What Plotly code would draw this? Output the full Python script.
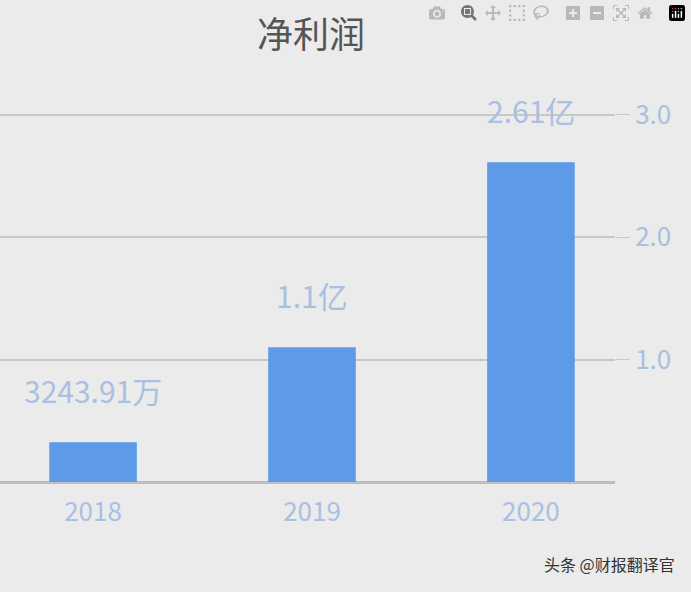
import plotly.graph_objects as go

years = ["2018", "2019", "2020"]
values = [0.324391, 1.1, 2.61]
labels = ["3243.91万", "1.1亿", "2.61亿"]
ytick_vals = [1.0, 2.0, 3.0]
ytick_text = ["1.0", "2.0", "3.0"]

FONT = "Noto Sans CJK SC"
LABEL_COLOR = "#a9c0e2"

xs = list(range(len(years)))
fig = go.Figure(go.Bar(
    x=xs, y=values, width=0.4, marker=dict(color="#5d9be8", line=dict(width=0)),
))
annos = [dict(x=x, y=v, text=t, xref="x", yref="y", showarrow=False, yanchor="bottom",
              yshift=28, font=dict(family=FONT, size=30, color=LABEL_COLOR))
         for x, v, t in zip(xs, values, labels)]
annos.append(dict(text="头条 @财报翻译官", xref="paper", yref="paper", x=1.1, y=-0.21,
                  xanchor="right", yanchor="middle", showarrow=False,
                  font=dict(family=FONT, size=16, color="#333333")))
fig.update_layout(
    width=691, height=592, paper_bgcolor="#ebebeb", plot_bgcolor="#ebebeb",
    margin=dict(l=0, r=76, t=90, b=110), showlegend=False,
    title=dict(text="净利润", x=0.45, xanchor="center", y=0.94, yanchor="middle",
               font=dict(family=FONT, size=36, color="#555555")),
    xaxis=dict(range=[-0.425, 2.384], tickvals=xs, ticktext=years, showgrid=False,
               zeroline=False, showline=False, ticklabelstandoff=12,
               tickfont=dict(family=FONT, size=26, color=LABEL_COLOR)),
    yaxis=dict(range=[0, 3.2], side="right", tickvals=ytick_vals, ticktext=ytick_text,
               gridcolor="#c8c8c8", gridwidth=2, zeroline=True, zerolinecolor="#bdbdbd",
               zerolinewidth=3, ticks="outside", ticklen=14, tickcolor="#c8c8c8",
               tickfont=dict(family=FONT, size=26, color=LABEL_COLOR)),
    annotations=annos,
)
fig.write_html("out.html")
with open("out.html", encoding="utf-8") as f:
    html = f.read()
html = html.replace("<head>", "<head><style>html,body{margin:0;padding:0;background:#ebebeb;}</style>", 1)
with open("out.html", "w", encoding="utf-8") as f:
    f.write(html)
